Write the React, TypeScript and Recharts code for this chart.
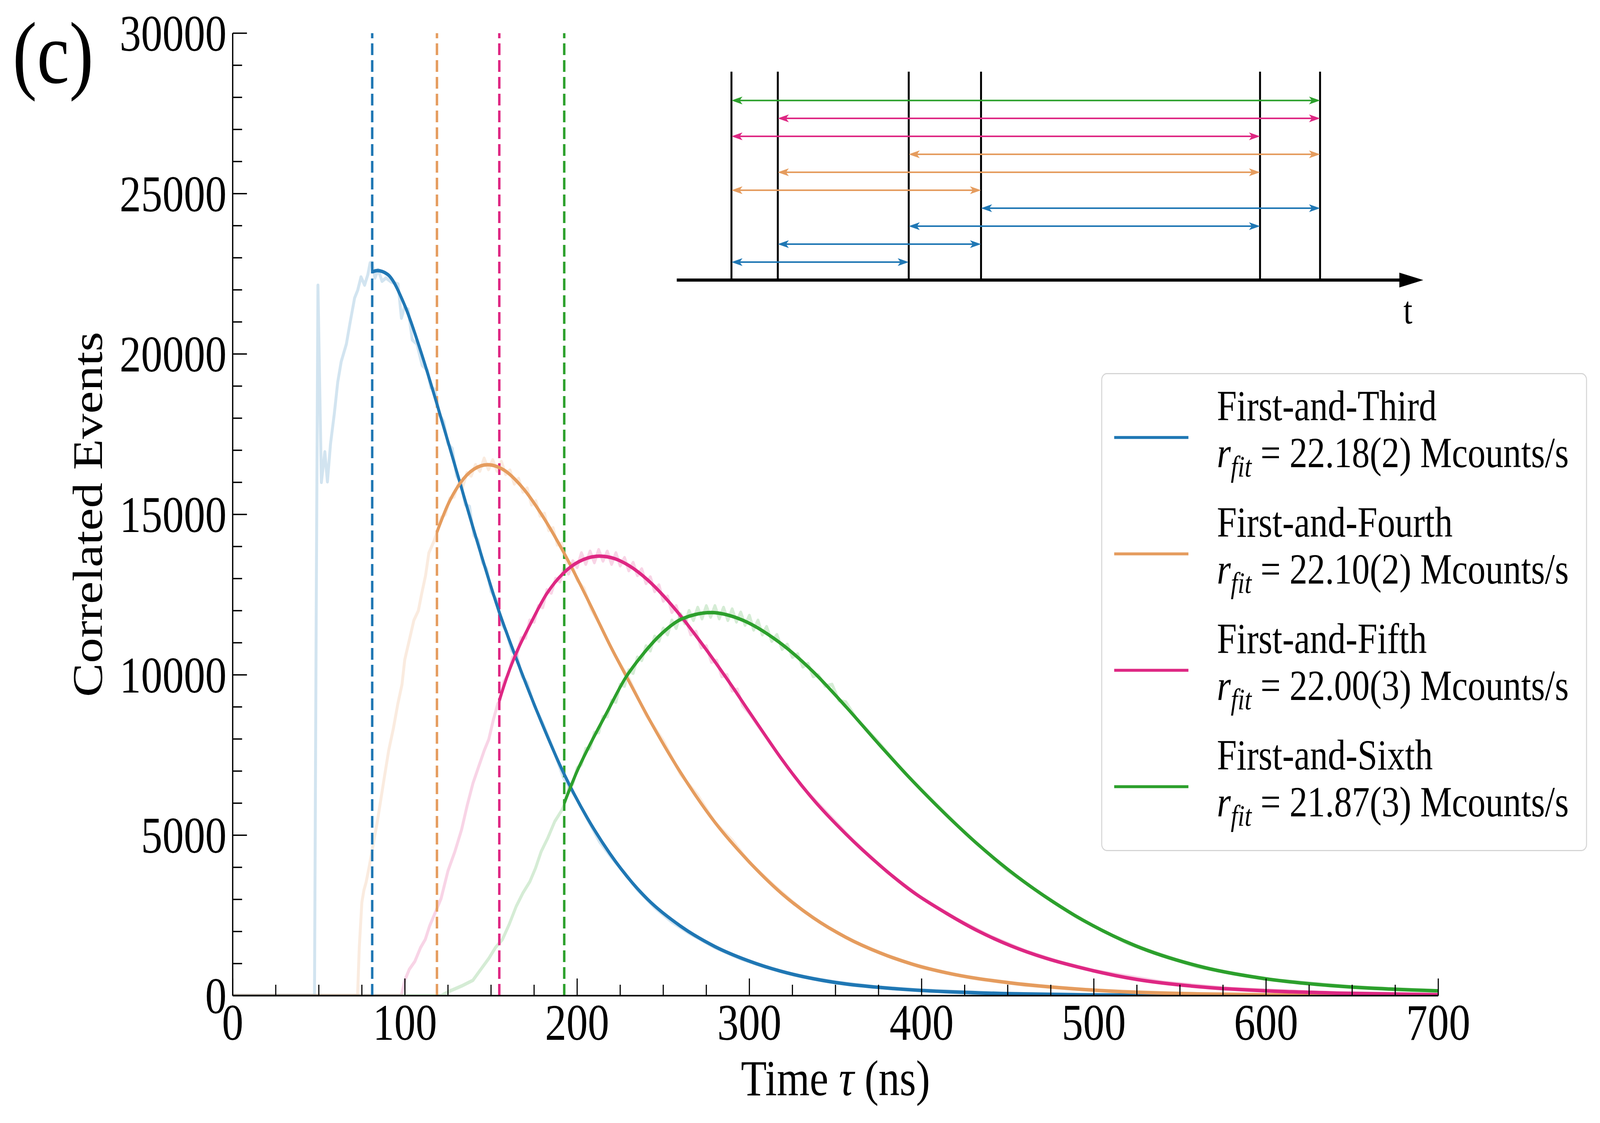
import React from 'react'
import {
  LineChart,
  Line,
  XAxis,
  YAxis,
  ReferenceLine,
  ReferenceDot,
} from 'recharts'

const W = 4937
const H = 2875
const SERIF = "'Liberation Serif', 'Times New Roman', Times, serif"

const BLUE = '#1f77b4'
const ORANGE = '#e59c5e'
const MAGENTA = '#de2783'
const GREEN = '#2ca02c'

// [tau (ns), correlated events]
const thirdRaw = [
  [0, 0], [47.5, 0], [48.5, 12000], [49.5, 22140], [51.5, 16000], [53.5, 16950], [55, 16020],
  [56.8, 17200], [59, 18140], [61, 19130], [63, 19760], [66, 20310], [68, 20930], [70.8, 21750],
  [72.6, 21990], [74.5, 22400], [76.6, 22150], [78.5, 22480], [79.8, 22840], [81, 22860],
  [82.6, 22370], [84.5, 22630], [86.7, 22270], [89, 22370], [92, 22250], [96, 22180], [98, 21120],
  [99.6, 21430], [101.8, 21400], [104.3, 20440], [107, 20310], [110, 19650], [113, 19500],
  [115, 18950], [117.5, 18900], [120, 18100], [122.5, 17900], [125, 17200], [127.5, 17050],
  [130, 16200], [132.5, 16000], [135, 15300], [137.5, 15250], [140, 14350], [142.5, 14200],
  [145, 13500], [147.5, 13300], [150, 12600], [153, 12350], [156, 11600], [159, 11350],
  [162, 10750], [165, 10600], [168, 9950], [171, 9750], [175, 9050], [180, 8500], [186, 7700],
  [192, 6800], [199, 6200], [206, 5500], [213, 4800], [220, 4300], [228, 3800], [235, 3300],
  [245, 2750], [255, 2300], [265, 1950], [280, 1500], [295, 1150], [310, 880], [330, 600],
  [350, 420], [375, 260], [400, 170], [450, 65], [500, 25], [600, 4], [700, 0],
]
const thirdFit = [
  [81, 22560], [84, 22600], [90, 22480], [100, 21500], [110, 19950], [118, 18550], [130, 16350],
  [142, 14150], [155, 11920], [165, 10460], [179, 8560], [192.5, 6900], [206, 5530], [219, 4430],
  [232, 3520], [241, 3000], [260, 2170], [280, 1530], [299, 1095], [318, 765], [337, 530],
  [356, 365], [376, 255], [395, 178], [414, 125], [452, 60], [500, 23], [550, 9], [600, 3], [700, 0],
]

const fourthRaw = [
  [0, 0], [72.5, 0], [73.5, 1500], [75, 2910], [76.2, 3290], [77.5, 3540], [79.4, 4060],
  [81.4, 4660], [84, 5430], [86, 6110], [88, 6790], [90.6, 7650], [93.3, 8330], [95.9, 9100],
  [98.3, 9700], [99.9, 10470], [102.5, 11070], [105.2, 11700], [107.8, 12000], [109.7, 12520],
  [112, 13100], [113.9, 13800], [116.8, 14160], [118.9, 14480], [121, 14900], [123.5, 15000],
  [126, 15500], [128.5, 15550], [131, 15950], [133.5, 15850], [136, 16300], [138.5, 16200],
  [141, 16550], [143.5, 16350], [146, 16750], [148.5, 16400], [151, 16700], [153.5, 16350],
  [156, 16650], [158.5, 16250], [161, 16380], [163.5, 15950], [166, 16120], [168.5, 15700],
  [171, 15820], [173.5, 15300], [176, 15420], [178.5, 14950], [181, 15030], [183.5, 14500],
  [186, 14580], [188.5, 14050], [191, 14100], [194, 13500], [197, 13450], [200, 12950],
  [204, 12700], [208, 12050], [214, 11500], [222, 10600], [230, 9900], [240, 8750], [250, 7950],
  [260, 6900], [270, 6250], [280, 5400], [290, 4850], [300, 4150], [315, 3400], [330, 2700],
  [345, 2150], [360, 1700], [380, 1250], [400, 880], [430, 540], [460, 330], [500, 170],
  [550, 70], [600, 28], [700, 4],
]
const fourthFit = [
  [118.6, 14450], [125, 15310], [132, 15970], [140, 16410], [148, 16550], [157, 16400],
  [169, 15790], [180, 14945], [192, 13836], [207, 12255], [219, 10930], [230, 9810], [241, 8700],
  [260, 6961], [280, 5402], [299, 4220], [318, 3220], [337, 2430], [356, 1820], [376, 1330],
  [395, 976], [414, 717], [452, 395], [491, 205], [523, 109], [560, 56], [600, 27], [650, 11], [700, 4],
]

const fifthRaw = [
  [0, 0], [97.9, 0], [99.9, 475], [102.5, 816], [105.8, 1070], [109.1, 1500], [111.8, 1750],
  [114.4, 2180], [118.4, 2690], [121, 3030], [125, 3890], [129, 4490], [132.9, 5175], [136.2, 5940],
  [139.5, 6620], [142.8, 7135], [146.1, 7650], [148.7, 7990], [151.3, 8590], [153.9, 9100],
  [155, 9160], [157.5, 9800], [160, 10000], [162.5, 10550], [165, 10600], [167.5, 11150],
  [170, 11150], [172.5, 11700], [175, 11650], [177.5, 12150], [180, 12100], [182.5, 12650],
  [185, 12550], [187.5, 13000], [190, 12900], [192.5, 13350], [195, 13150], [197.5, 13550],
  [200, 13350], [202.5, 13800], [205, 13450], [207.5, 13850], [210, 13500], [212.5, 13900],
  [215, 13550], [217.5, 13850], [220, 13450], [222.5, 13800], [225, 13400], [227.5, 13650],
  [230, 13250], [232.5, 13500], [235, 13100], [237.5, 13300], [240, 12850], [242.5, 13050],
  [245, 12600], [247.5, 12800], [250, 12300], [252.5, 12450], [255, 11950], [257.5, 12150],
  [260, 11700], [263, 11750], [266, 11250], [269, 11350], [272, 10850], [275, 10900],
  [278, 10400], [281, 10450], [284, 9950], [287, 10000], [290, 9500], [293, 9550], [296, 9050],
  [300, 8800], [315, 7650], [330, 6550], [345, 5700], [360, 4850], [380, 3850], [400, 3050],
  [420, 2400], [440, 1850], [460, 1400], [480, 1050], [500, 780], [540, 420], [580, 220],
  [640, 85], [700, 30],
]
const fifthFit = [
  [154.8, 9200], [160, 10050], [165, 10720], [173, 11600], [182, 12500], [192, 13169], [201, 13529],
  [213, 13700], [222, 13618], [230, 13407], [241, 12955], [250, 12471], [260, 11844], [270, 11146],
  [280, 10410], [290, 9640], [299, 8920], [309, 8130], [318, 7430], [337, 6120], [356, 5040],
  [376, 4050], [395, 3230], [414, 2580], [433, 2010], [452, 1550], [472, 1170], [491, 890],
  [525, 505], [564, 265], [602, 145], [641, 80], [700, 30],
]

const sixthRaw = [
  [0, 0], [121, 0], [126.3, 150], [132.9, 300], [139.5, 480], [143.4, 770], [148.7, 1160],
  [152.6, 1500], [156.6, 1750], [160.6, 2230], [164.6, 2780], [168.5, 3200], [172.5, 3550],
  [175.8, 3970], [179.1, 4490], [183, 4920], [187, 5430], [191, 5770], [192.5, 5940], [195, 6450],
  [197.5, 6600], [200, 7100], [202.5, 7200], [205, 7700], [207.5, 7700], [210, 8200], [212.5, 8200],
  [215, 8700], [217.5, 8700], [220, 9200], [222.5, 9150], [225, 9700], [227.5, 9650], [230, 10150],
  [232.5, 10050], [235, 10550], [237.5, 10450], [240, 10900], [242.5, 10750], [245, 11200],
  [247.5, 11050], [250, 11450], [252.5, 11250], [255, 11700], [257.5, 11450], [260, 11900],
  [262.5, 11600], [265, 12000], [267.5, 11700], [270, 12100], [272.5, 11750], [275, 12150],
  [277.5, 11800], [280, 12150], [282.5, 11750], [285, 12100], [287.5, 11700], [290, 12050],
  [292.5, 11650], [295, 11950], [297.5, 11550], [300, 11850], [302.5, 11400], [305, 11700],
  [307.5, 11250], [310, 11500], [313, 11050], [316, 11250], [319, 10800], [322, 10950],
  [325, 10550], [328, 10650], [331, 10250], [334, 10350], [337, 9950], [340, 10000], [344, 9650],
  [348, 9700], [352, 9200], [356, 9150], [362, 8650], [375, 7900], [390, 6950], [405, 6150],
  [420, 5350], [435, 4600], [450, 3900], [470, 3150], [490, 2450], [520, 1620], [560, 900],
  [600, 510], [650, 270], [700, 150],
]
const sixthFit = [
  [192.5, 6000], [200, 7000], [207, 7780], [217, 8800], [228, 9900], [238, 10630], [248, 11230],
  [261, 11750], [278, 11940], [294, 11750], [317, 11030], [337, 10100], [356, 9010], [376, 7790],
  [395, 6680], [414, 5650], [433, 4700], [450, 3940], [472, 3080], [489, 2500], [524, 1560],
  [564, 880], [602, 510], [641, 300], [700, 150],
]

const seriesNames = ['First-and-Third', 'First-and-Fourth', 'First-and-Fifth', 'First-and-Sixth']
const fitRates = ['22.18(2)', '22.10(2)', '22.00(3)', '21.87(3)']
const fitStarts = [81, 118.6, 154.8, 192.5]
const seriesColors = [BLUE, ORANGE, MAGENTA, GREEN]
const rawData = [thirdRaw, fourthRaw, fifthRaw, sixthRaw]
const fitData = [thirdFit, fourthFit, fifthFit, sixthFit]

const yMajorTicks = [0, 5000, 10000, 15000, 20000, 25000, 30000]
const xMajorTicks = [0, 100, 200, 300, 400, 500, 600, 700]
const yMinorStep = 1000
const xMinorStep = 25

// inset sketch: detection times (arb. units), arrow pairs from the top row down
const insetEvents = [0, 20, 76.5, 107.7, 228.1, 254]
const insetPairs = [[0, 5], [1, 5], [0, 4], [2, 5], [1, 4], [0, 3], [3, 5], [2, 4], [1, 3], [0, 2]]
const insetPairColors = [GREEN, MAGENTA, MAGENTA, ORANGE, ORANGE, ORANGE, BLUE, BLUE, BLUE, BLUE]
const insetTimeAxis = [-23.6, 288.5]

const pts = (rows: number[][]) => rows.map(([t, v]) => ({ t, v }))
const steps = (max: number, step: number) =>
  Array.from({ length: Math.round(max / step) + 1 }, (_, i) => i * step)

const series = seriesNames.map((name, i) => ({
  name,
  rate: fitRates[i],
  start: fitStarts[i],
  color: seriesColors[i],
  raw: pts(rawData[i]),
  fit: pts(fitData[i]),
}))

const yTicks = steps(30000, yMinorStep)
const xTicks = steps(700, xMinorStep)
const insetAxisData = insetTimeAxis.map((u) => ({ u, y: 0 }))

const renderYTick = (props: any) => {
  const { x, y, payload } = props
  const major = yMajorTicks.includes(payload.value)
  return (
    <g>
      <line x1={x} x2={x + (major ? 44 : 29)} y1={y} y2={y} stroke="#000" strokeWidth={3.5} />
      {major && (
        <text x={x - 19} y={y + 45} textAnchor="end" fontFamily={SERIF} fontSize={132} fill="#000">
          {payload.value}
        </text>
      )}
    </g>
  )
}

const renderXTick = (props: any) => {
  const { x, y, payload } = props
  const major = xMajorTicks.includes(payload.value)
  return (
    <g>
      <line x1={x} x2={x} y1={y} y2={y - (major ? 44 : 28)} stroke="#000" strokeWidth={3.5} />
      {major && (
        <text x={x} y={y + 113} textAnchor="middle" fontFamily={SERIF} fontSize={132} fill="#000">
          {payload.value}
        </text>
      )}
    </g>
  )
}

const renderXLabel = (props: any) => {
  const { x, y, width } = props.viewBox
  return (
    <text x={x + width / 2} y={y + 255} textAnchor="middle" fontFamily={SERIF} fontSize={130} fill="#000">
      Time <tspan fontStyle="italic">τ</tspan> (ns)
    </text>
  )
}

const renderYLabel = (props: any) => {
  const { x, y, height } = props.viewBox
  const cx = x + 315
  const cy = y + height / 2
  return (
    <text
      x={cx}
      y={cy}
      transform={`rotate(-90, ${cx}, ${cy})`}
      textAnchor="middle"
      fontFamily={SERIF}
      fontSize={130}
      fill="#000"
    >
      Correlated Events
    </text>
  )
}

const DoubleArrow = (props: any) => {
  const { x1, x2, y1, stroke } = props
  const L = 34
  const h = 10
  const left = Math.min(x1, x2)
  const right = Math.max(x1, x2)
  const y = y1
  return (
    <g>
      <line x1={left + L * 0.6} x2={right - L * 0.6} y1={y} y2={y} stroke={stroke} strokeWidth={4} />
      <path d={`M${left},${y} L${left + L},${y - h} L${left + L * 0.75},${y} L${left + L},${y + h} Z`} fill={stroke} />
      <path d={`M${right},${y} L${right - L},${y - h} L${right - L * 0.75},${y} L${right - L},${y + h} Z`} fill={stroke} />
    </g>
  )
}

const renderAxisTip = (props: any) => {
  const { cx, cy, index } = props
  if (index !== insetAxisData.length - 1) return <g key={`tip-${index}`} />
  return <path key="tip" d={`M${cx - 2},${cy - 19} L${cx + 72},${cy} L${cx - 2},${cy + 19} Z`} fill="#000" />
}

function Inset() {
  return (
    <LineChart width={2400} height={720} margin={{ top: 0, right: 0, bottom: 0, left: 0 }} data={insetAxisData}>
      <XAxis type="number" dataKey="u" domain={[-28.95, 306.7]} hide height={0} allowDataOverflow />
      <YAxis type="number" domain={[-3.33, 12.33]} hide width={0} allowDataOverflow />
      {insetEvents.map((e, i) => (
        <ReferenceLine
          key={`ev-${i}`}
          segment={[{ x: e, y: 0 }, { x: e, y: 11.6 }]}
          stroke="#000"
          strokeWidth={6}
        />
      ))}
      {insetPairs.map(([a, b], i) => (
        <ReferenceLine
          key={`pair-${i}`}
          segment={[{ x: insetEvents[a], y: 10 - i }, { x: insetEvents[b], y: 10 - i }]}
          stroke={insetPairColors[i]}
          shape={DoubleArrow}
        />
      ))}
      <Line
        dataKey="y"
        type="linear"
        stroke="#000"
        strokeWidth={8}
        dot={renderAxisTip}
        activeDot={false}
        isAnimationActive={false}
      />
      <ReferenceDot
        x={291.9}
        y={-1.65}
        r={0}
        fill="none"
        stroke="none"
        label={{ value: 't', position: 'center', fontFamily: SERIF, fontSize: 100, fill: '#000' }}
      />
    </LineChart>
  )
}

export default function App() {
  // the browser may give us a narrower viewport than asked; squeeze the figure to fit it
  const viewW = typeof window !== 'undefined' ? Math.min(W, window.innerWidth) : W
  const viewH = typeof window !== 'undefined' ? Math.min(H, window.innerHeight) : H
  const sx = viewW / W
  const sy = viewH / H

  return (
    <div style={{ position: 'relative', width: viewW, height: viewH, overflow: 'hidden', background: '#fff' }}>
      <style>{'body{margin:0}'}</style>
      <div
        style={{
          position: 'absolute',
          left: 0,
          top: 0,
          width: W,
          height: H,
          transform: `scale(${sx}, ${sy})`,
          transformOrigin: '0 0',
        }}
      >
        <div style={{ position: 'absolute', left: 0, top: 0 }}>
          <LineChart width={W} height={H} margin={{ top: 85, right: 499, bottom: 0, left: 0 }}>
            <XAxis
              type="number"
              dataKey="t"
              domain={[0, 700]}
              ticks={xTicks}
              interval={0}
              tickSize={0}
              tickMargin={0}
              tickLine={false}
              axisLine={{ stroke: '#000', strokeWidth: 4 }}
              tick={renderXTick}
              height={326}
              label={renderXLabel}
              allowDataOverflow
            />
            <YAxis
              type="number"
              domain={[0, 30000]}
              ticks={yTicks}
              interval={0}
              tickSize={0}
              tickMargin={0}
              tickLine={false}
              axisLine={{ stroke: '#000', strokeWidth: 4 }}
              tick={renderYTick}
              width={718}
              label={renderYLabel}
              allowDataOverflow
            />
            {series.map((s) => (
              <Line
                key={`${s.name}-raw`}
                data={s.raw}
                dataKey="v"
                type="linear"
                stroke={s.color}
                strokeOpacity={0.2}
                strokeWidth={9}
                strokeLinejoin="round"
                dot={false}
                activeDot={false}
                isAnimationActive={false}
              />
            ))}
            {series.map((s) => (
              <ReferenceLine
                key={`${s.name}-cut`}
                x={s.start}
                stroke={s.color}
                strokeWidth={7.5}
                strokeDasharray="30 13"
              />
            ))}
            {series.map((s) => (
              <Line
                key={`${s.name}-fit`}
                data={s.fit}
                dataKey="v"
                type="monotone"
                stroke={s.color}
                strokeWidth={9}
                dot={false}
                activeDot={false}
                isAnimationActive={false}
              />
            ))}
          </LineChart>
        </div>
        <div style={{ position: 'absolute', left: 2050, top: 150 }}>
          <Inset />
        </div>
        <svg
          width={W}
          height={H}
          style={{ position: 'absolute', left: 0, top: 0, pointerEvents: 'none' }}
          fontFamily={SERIF}
        >
          <text x={39} y={212} fontSize={225} fill="#000">(c)</text>
          <g transform="translate(3398, 955)">
            <rect x={1.5} y={1.5} width={1496} height={1221} rx={16} fill="#fff" fillOpacity={0.8} stroke="#d5d5d5" strokeWidth={3} />
            {series.map((s, i) => (
              <g key={s.name} transform={`translate(0, ${i * 298})`}>
                <line x1={40} x2={269} y1={165} y2={165} stroke={s.color} strokeWidth={7.5} />
                <text x={357} y={121} fontSize={110} fill="#000">{s.name}</text>
                <text x={357} y={241} fontSize={110} fill="#000">
                  <tspan fontStyle="italic">r</tspan>
                  <tspan fontStyle="italic" fontSize={77} dy={24}>fit</tspan>
                  <tspan dy={-24}>{` = ${s.rate} Mcounts/s`}</tspan>
                </text>
              </g>
            ))}
          </g>
        </svg>
      </div>
    </div>
  )
}
